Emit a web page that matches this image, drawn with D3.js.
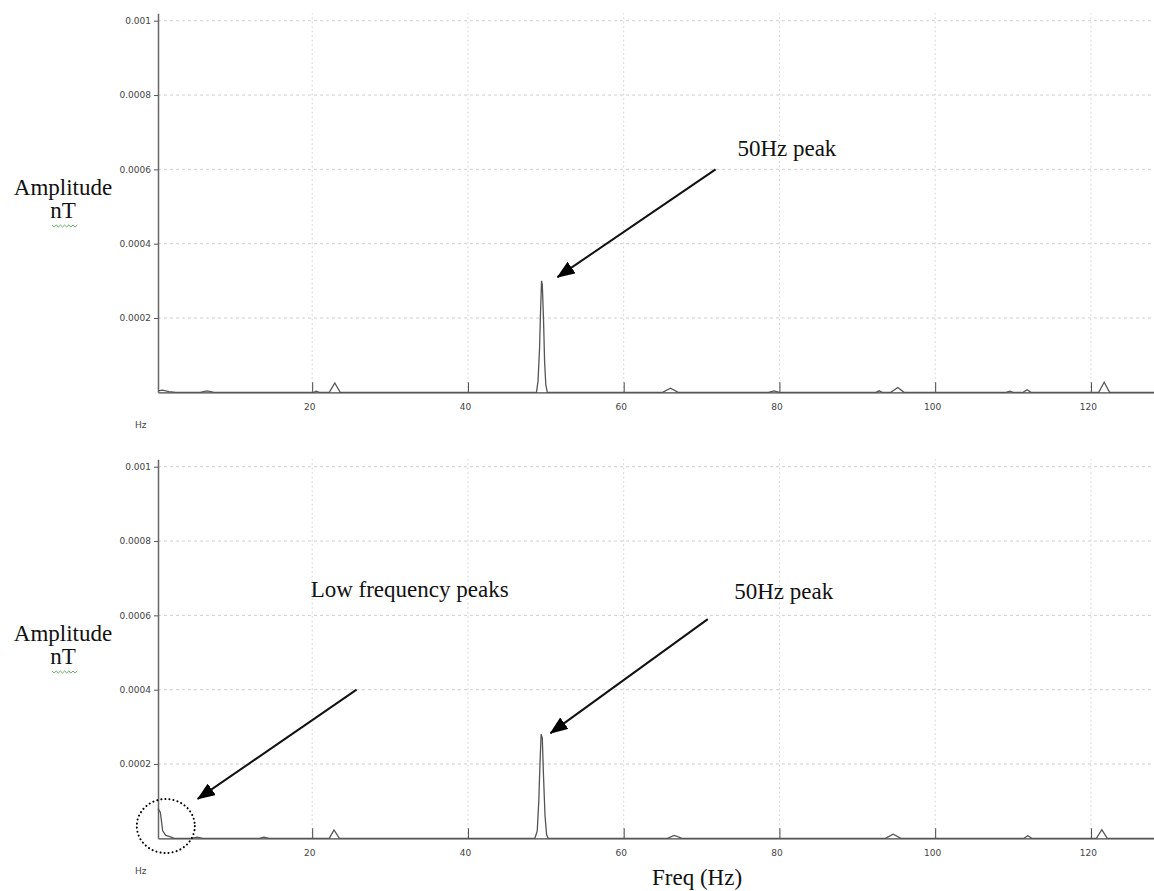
<!DOCTYPE html>
<html>
<head>
<meta charset="utf-8">
<script src="https://cdn.jsdelivr.net/npm/d3@7"></script>
<style>
  body { margin: 0; background: #fff; }
  svg { display: block; }
  .note { font-family: "Liberation Serif", "Times New Roman", serif; font-size: 23px; fill: #111; }
  .tick text { font-family: "DejaVu Sans", Tahoma, sans-serif; font-size: 9px; fill: #444; }
</style>
</head>
<body>
<script>

// spectra, frequency in Hz and amplitude in nT

var freqTop = [0.2, 0.8, 1.6, 2.5, 5.6, 6.5, 7.4, 20.2, 20.5, 20.9, 22.2, 22.9, 23.6,
  48.8, 49.0, 49.2, 49.3, 49.45, 49.55, 49.7, 49.85, 50.0, 50.2,
  65.0, 66.0, 67.0, 78.6, 79.3, 80.0, 92.4, 92.8, 93.2, 94.3, 95.2, 96.0,
  109.1, 109.6, 110.0, 111.3, 111.8, 112.3, 121.0, 121.7, 122.4, 128.1]
var ampTop = [0.000004, 0.000006, 0.000002, 0, 0, 0.000004, 0, 0, 0.000003, 0, 0, 0.000025, 0,
  0, 0.00003, 0.00012, 0.0002, 0.0003, 0.00029, 0.0002, 0.00008, 0.00002, 0,
  0, 0.000011, 0, 0, 0.000004, 0, 0, 0.000004, 0, 0, 0.000013, 0,
  0, 0.000003, 0, 0, 0.000007, 0, 0, 0.000027, 0, 0]

var freqBottom = [0.2, 0.5, 0.8, 1.2, 1.8, 2.3, 4.5, 5.2, 6.0, 13.2, 13.8, 14.5, 22.2, 22.8, 23.5,
  48.6, 48.9, 49.1, 49.25, 49.4, 49.55, 49.7, 49.9, 50.1, 50.3,
  65.6, 66.5, 67.5, 93.6, 94.6, 95.6, 111.4, 111.9, 112.4, 120.7, 121.4, 122.1, 128.1]
var ampBottom = [0.00008, 0.00007, 0.00002, 0.000008, 0.000004, 0, 0, 0.000003, 0, 0, 0.000003, 0, 0, 0.0000225, 0,
  0, 0.00002, 0.0001, 0.0002, 0.00028, 0.00027, 0.00017, 0.00006, 0.00001, 0,
  0, 0.000008, 0, 0, 0.000011, 0, 0, 0.000007, 0, 0, 0.000023, 0, 0]

var xTicks = [20, 40, 60, 80, 100, 120]
var yTicks = [0.0002, 0.0004, 0.0006, 0.0008, 0.001]

// arrows: tip and tail in data units (Hz, nT)
var arrowsTop = [{ tip: [51.5, 0.00031], tail: [71.8, 0.0006] }]
var arrowsBottom = [
  { tip: [50.6, 0.000283], tail: [70.8, 0.000590] },
  { tip: [5.3, 0.000106], tail: [25.7, 0.00040] }
]
var notesTop = [{ text: "50Hz peak", at: [74.6, 0.000635] }]
var notesBottom = [
  { text: "50Hz peak", at: [74.2, 0.000645] },
  { text: "Low frequency peaks", at: [19.8, 0.00065] }
]

var width = 1154, height = 891

var svg = d3.select("body").append("svg")
  .attr("width", width)
  .attr("height", height)

svg.append("defs").append("marker")
  .attr("id", "head")
  .attr("markerUnits", "userSpaceOnUse")
  .attr("viewBox", "0 0 18 14")
  .attr("refX", 17)
  .attr("refY", 7)
  .attr("markerWidth", 18)
  .attr("markerHeight", 14)
  .attr("orient", "auto")
  .append("path")
  .attr("d", "M0,0 L18,7 L0,14 z")
  .attr("fill", "#000")

var x = d3.scaleLinear()
  .domain([0.2, 128.1])
  .range([158, 1154])

// one panel per spectrum, same scales, shifted down for the second one

function drawPanel(offsetY, freq, amp, arrows, notes) {
  var g = svg.append("g").attr("transform", "translate(0," + offsetY + ")")

  var y = d3.scaleLinear()
    .domain([0, 0.00102])
    .range([392.3, 13.3])

  // grid
  g.selectAll(".hgrid")
    .data(yTicks)
    .enter().append("line")
    .attr("x1", x.range()[0]).attr("x2", x.range()[1])
    .attr("y1", function(d) { return y(d) })
    .attr("y2", function(d) { return y(d) })
    .attr("stroke", "#cfcfcf")
    .attr("stroke-dasharray", "3,3")

  g.selectAll(".vgrid")
    .data(xTicks)
    .enter().append("line")
    .attr("x1", function(d) { return x(d) })
    .attr("x2", function(d) { return x(d) })
    .attr("y1", y(0)).attr("y2", y.range()[1])
    .attr("stroke", "#cfcfcf")
    .attr("stroke-dasharray", "1.5,3")

  // axes
  var xAxis = d3.axisBottom(x)
    .tickValues(xTicks)
    .tickSizeInner(-10)
    .tickSizeOuter(0)
    .tickPadding(11)

  var xg = g.append("g")
    .attr("transform", "translate(0," + y(0) + ")")
    .call(xAxis)
  xg.select(".domain").attr("stroke", "#444").attr("stroke-width", 1.2)
  xg.selectAll(".tick line").attr("stroke", "#444")
  xg.selectAll(".tick text").attr("dx", "-3")

  var yAxis = d3.axisLeft(y)
    .tickValues(yTicks)
    .tickSizeInner(4)
    .tickSizeOuter(0)
    .tickPadding(3)
    .tickFormat(function(d) { return String(+d.toFixed(4)) })

  var yg = g.append("g")
    .attr("transform", "translate(" + x.range()[0] + ",0)")
    .call(yAxis)
  yg.select(".domain").attr("stroke", "#666").attr("stroke-width", 1.5)
  yg.selectAll(".tick line").attr("stroke", "#555")

  // spectrum
  var pts = freq.map(function(f, i) { return [f, amp[i]] })
  g.append("path")
    .datum(pts)
    .attr("fill", "none")
    .attr("stroke", "#555")
    .attr("stroke-width", 1.3)
    .attr("d", d3.line()
      .x(function(d) { return x(d[0]) })
      .y(function(d) { return y(d[1]) }))

  // labels
  g.append("text")
    .attr("x", 135).attr("y", 428)
    .style("font-family", "DejaVu Sans, Tahoma, sans-serif")
    .style("font-size", "9px")
    .style("fill", "#444")
    .text("Hz")

  g.append("text").attr("class", "note")
    .attr("x", 63).attr("y", 195)
    .attr("text-anchor", "middle")
    .text("Amplitude")
  g.append("text").attr("class", "note")
    .attr("x", 63).attr("y", 218)
    .attr("text-anchor", "middle")
    .text("nT")

  // spell-check squiggle under nT
  var sq = "M52,225"
  for (var i = 1; i <= 12; i++) sq += " L" + (52 + i * 2.1) + "," + (i % 2 ? 227 : 225)
  g.append("path").attr("d", sq).attr("fill", "none").attr("stroke", "#3b9a3b").attr("stroke-width", 0.8)

  g.selectAll(".arrow")
    .data(arrows)
    .enter().append("line")
    .attr("x1", function(d) { return x(d.tail[0]) })
    .attr("y1", function(d) { return y(d.tail[1]) })
    .attr("x2", function(d) { return x(d.tip[0]) })
    .attr("y2", function(d) { return y(d.tip[1]) })
    .attr("stroke", "#111")
    .attr("stroke-width", 2)
    .attr("marker-end", "url(#head)")

  g.selectAll(".ann")
    .data(notes)
    .enter().append("text")
    .attr("class", "note")
    .attr("x", function(d) { return x(d.at[0]) })
    .attr("y", function(d) { return y(d.at[1]) })
    .text(function(d) { return d.text })

  return { g: g, y: y }
}

drawPanel(0, freqTop, ampTop, arrowsTop, notesTop)
var bottom = drawPanel(446, freqBottom, ampBottom, arrowsBottom, notesBottom)

// dotted ring around the low frequency peaks
bottom.g.append("ellipse")
  .attr("cx", x(1.2))
  .attr("cy", bottom.y(0.000033))
  .attr("rx", 29)
  .attr("ry", 27)
  .attr("fill", "none")
  .attr("stroke", "#000")
  .attr("stroke-width", 2)
  .attr("stroke-linecap", "round")
  .attr("stroke-dasharray", "0.1,4")

svg.append("text")
  .attr("class", "note")
  .attr("x", 652).attr("y", 885)
  .text("Freq (Hz)")

</script>
</body>
</html>
